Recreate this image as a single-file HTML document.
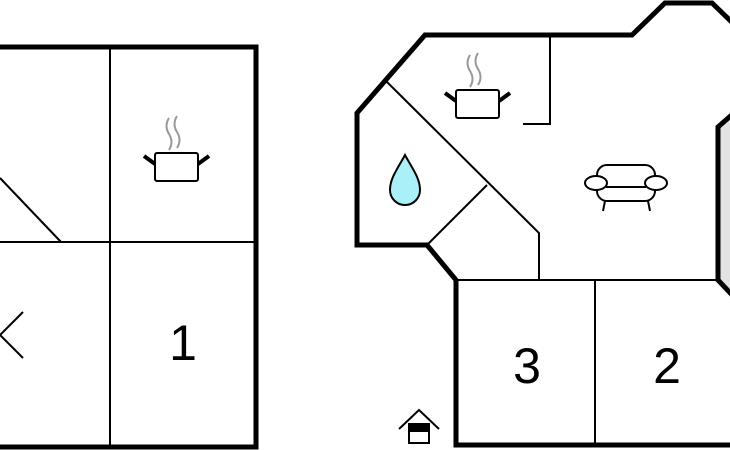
<!DOCTYPE html>
<html><head><style>body{margin:0;background:#fff}svg{display:block}</style></head><body>
<svg width="730" height="450" viewBox="0 0 730 450" xmlns="http://www.w3.org/2000/svg">
<defs>
<g id="pot">
<path d="M3 -38 q-5 8 0 16 q5 8 0 16 M11 -40 q-5 8 0 16 q5 8 0 16" fill="none" stroke="#999" stroke-width="2"/>
<rect x="-11" y="-3" width="43" height="28" rx="2" fill="#fff" stroke="#000" stroke-width="2"/>
<path d="M-22 0 L-11 8 M43 0 L32 8" stroke="#000" stroke-width="4"/>
</g>
</defs>
<!-- left plan -->
<rect x="-10" y="47" width="266" height="400" fill="#fff" stroke="#000" stroke-width="5"/>
<path d="M110 47 V447 M-5 242 H256 M0 178 L61 242 M23 312 L0 335 L23 358" stroke="#000" stroke-width="2" fill="none"/>
<use href="#pot" x="166" y="156"/>
<text x="183" y="360" font-family="Liberation Sans, sans-serif" font-size="50" text-anchor="middle">1</text>
<!-- right plan -->
<polygon points="718,127 735,112 735,298 718,280" fill="#e3e3e3"/>
<path d="M740 30 L712 3 H665 L632 35 H425 L357 113 V245 H427 L456 280 V445 H740" fill="none" stroke="#000" stroke-width="5" stroke-linejoin="miter"/>
<path d="M735 112 L718 127 V280 L735 298" fill="none" stroke="#000" stroke-width="5"/>
<path d="M387 82 L539 233 V280 M427 245 L487 185 M550 37 V124 H523 M456 280 H718 M595 280 V445" fill="none" stroke="#000" stroke-width="2"/>
<use href="#pot" x="467" y="93"/>
<path d="M405 155 C398 168 390 178 390 190 A15 15 0 0 0 420 190 C420 178 412 168 405 155 Z" fill="#aaf0f8" stroke="#000" stroke-width="2"/>
<g fill="#fff" stroke="#000" stroke-width="2">
<rect x="597" y="165" width="58" height="36" rx="10"/>
<path d="M605 201 L603 211 M648 201 L650 211"/>
<ellipse cx="596" cy="183" rx="11" ry="7"/>
<ellipse cx="656" cy="183" rx="11" ry="7"/>
<path d="M606 187 H646"/>
</g>
<text x="527" y="383" font-family="Liberation Sans, sans-serif" font-size="50" text-anchor="middle">3</text>
<text x="667" y="383" font-family="Liberation Sans, sans-serif" font-size="50" text-anchor="middle">2</text>
<!-- entrance icon -->
<path d="M399 429 L419 410 L439 429" fill="none" stroke="#000" stroke-width="2"/>
<rect x="409" y="424" width="20" height="19" fill="#fff" stroke="#000" stroke-width="2"/>
<rect x="409" y="424" width="20" height="8" fill="#000"/>
</svg>
</body></html>
